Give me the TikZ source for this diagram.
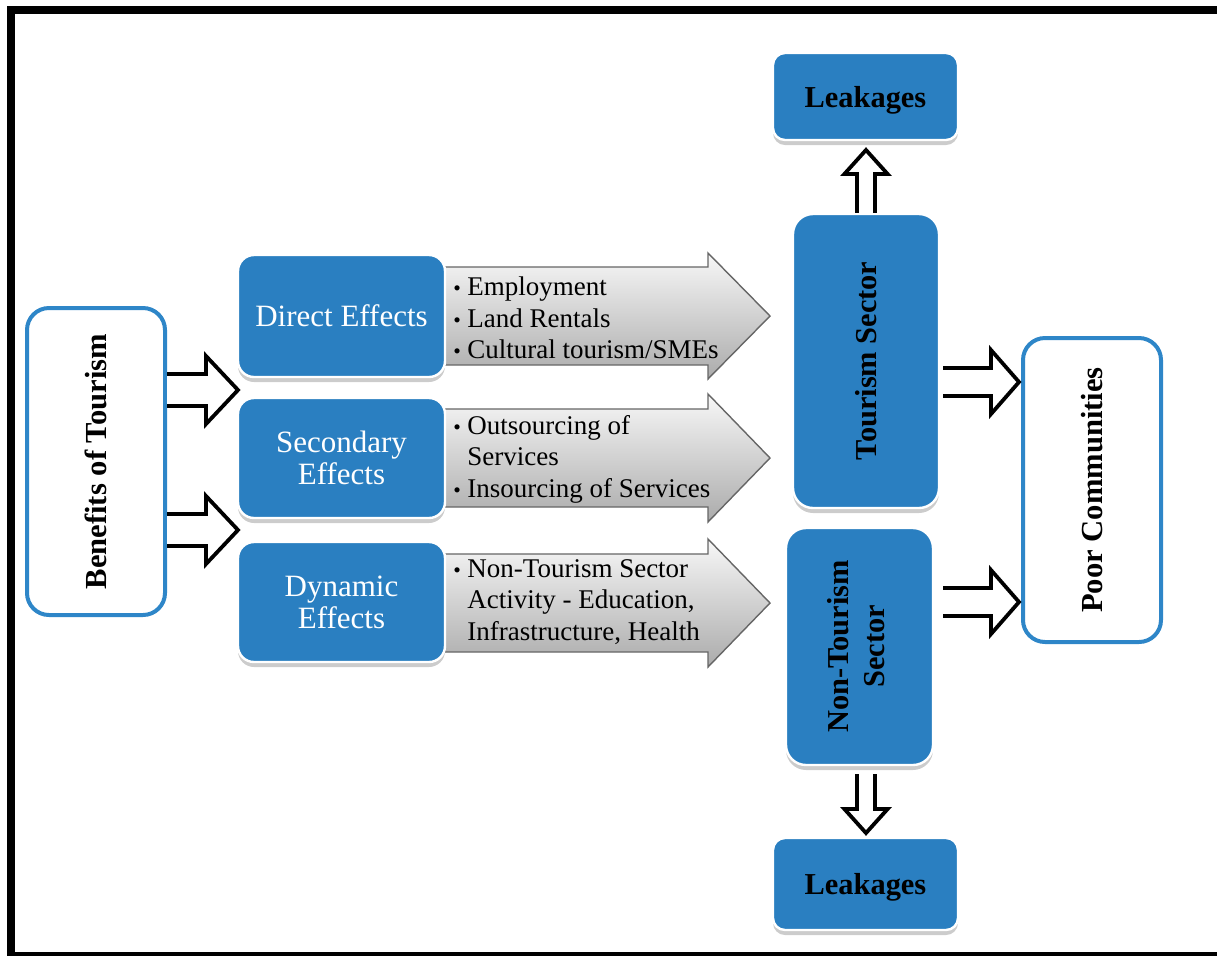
\documentclass[tikz,border=0pt]{standalone}
\usepackage{fontspec}
\setmainfont{Liberation Serif}
\usetikzlibrary{calc,shadows,backgrounds}

\definecolor{boxblue}{RGB}{42,127,193}
\definecolor{lineblue}{RGB}{46,134,200}

% bullet and hanging indent for the lists
\newcommand{\blt}{\makebox[7pt][l]{\scalebox{0.8}{\textbullet}}}
\newcommand{\nob}{\hspace*{7pt}}

% horizontal block arrow: [style] from, tip, body half, head half, head length
\newcommand{\hblock}[6][blockarrow]{%
  \draw[#1] let \p1=(#2), \p2=(#3) in
    (\x1,\y2+#4) -- (\x2-#6,\y2+#4) -- (\x2-#6,\y2+#5) -- (\x2,\y2)
    -- (\x2-#6,\y2-#5) -- (\x2-#6,\y2-#4) -- (\x1,\y2-#4);}
% vertical block arrow: from, tip, body half, head half, signed head length
\newcommand{\vblock}[5]{%
  \draw[blockarrow] let \p1=(#1), \p2=(#2) in
    (\x2-#3,\y1) -- (\x2-#3,\y2#5) -- (\x2-#4,\y2#5) -- (\x2,\y2)
    -- (\x2+#4,\y2#5) -- (\x2+#3,\y2#5) -- (\x2+#3,\y1);}

\begin{document}
\begin{tikzpicture}[x=0.5pt, y=-0.5pt,
  bluebox/.style={draw=white, line width=1.2pt, fill=boxblue, inner sep=0pt,
    drop shadow={shadow xshift=0pt, shadow yshift=-2.5pt, fill=black!22, opacity=0.9}},
  effect/.style={bluebox, rounded corners=8pt, minimum width=103.5pt, minimum height=61pt,
    text=white, align=center, font=\fontsize{15.5}{16}\selectfont},
  sector/.style={bluebox, rounded corners=10pt, font=\fontsize{15.2}{18}\selectfont\bfseries},
  leak/.style={bluebox, rounded corners=6pt, minimum width=92.5pt, text depth=0pt,
    font=\fontsize{15.2}{18}\selectfont\bfseries},
  outlinebox/.style={draw=lineblue, line width=2pt, fill=white, rounded corners=11pt,
    inner sep=0pt, font=\fontsize{15.3}{18}\selectfont\bfseries},
  items/.style={anchor=west, align=left, inner sep=0pt, font=\fontsize{13.5}{15.8}\selectfont},
  blockarrow/.style={draw=black, line width=1.9pt, fill=white, line join=miter},
  grayarrow/.style={draw=black!60, line width=0.7pt, top color=black!3, bottom color=black!33}]

\useasboundingbox (0,0) rectangle (1217,955);
\clip (0,0) rectangle (1217,955);

% boxes
\node[outlinebox, minimum width=69pt, minimum height=153.5pt] (ben) at (96,461.5)
  {\rotatebox{90}{Benefits of Tourism}};
\node[effect] (dir) at (341.5,316) {Direct Effects};
\node[effect, minimum height=60pt] (sec) at (341.5,458) {Secondary\\Effects};
\node[effect, minimum height=60pt] (dyn) at (341.5,602) {Dynamic\\Effects};
\node[sector, minimum width=73pt, minimum height=147pt] (tour) at (866,361)
  {\rotatebox{90}{Tourism Sector}};
\node[sector, minimum width=73.5pt, minimum height=118.5pt] (ntour) at (859.5,646.5)
  {\rotatebox{90}{\begin{tabular}{@{}c@{}}Non-Tourism\\Sector\end{tabular}}};
\node[leak, minimum height=43.5pt] (leak1) at (865.5,96.5) {Leakages};
\node[leak, minimum height=46pt] (leak2) at (865.5,884) {Leakages};
\node[outlinebox, minimum width=69pt, minimum height=152pt] (poor) at (1092,490)
  {\rotatebox{90}{Poor Communities}};

% lists
\node[items] (dirlist) at (453,318) {\blt Employment\\ \blt Land Rentals\\ \blt Cultural tourism/SMEs};
\node[items] (seclist) at (453,459) {\blt Outsourcing of\\ \nob Services\\ \blt Insourcing of Services};
\node[items] (dynlist) at (453,602) {\blt Non-Tourism Sector\\ \nob Activity - Education,\\ \nob Infrastructure, Health};

% arrow tips
\coordinate (gt1) at (770,316);
\coordinate (gt2) at (770,458);
\coordinate (gt3) at (770,603);
\coordinate (bt1) at (238,390);
\coordinate (bt2) at (238,530);
\coordinate (pt1) at (1019,382);
\coordinate (pt2) at (1019,602);
\coordinate (lt1) at (866,150);
\coordinate (lt2) at (866,833);

\begin{scope}[on background layer]
  \hblock[grayarrow]{[xshift=-5pt]dir.east}{gt1}{24.5}{31.5}{31}
  \hblock[grayarrow]{[xshift=-5pt]sec.east}{gt2}{24.5}{32}{31}
  \hblock[grayarrow]{[xshift=-5pt]dyn.east}{gt3}{24.5}{32}{31}
\end{scope}

\hblock{ben.east}{bt1}{8}{17}{16}
\hblock{ben.east}{bt2}{8}{17}{16}
\hblock{[xshift=1.5pt]tour.east}{pt1}{7}{16}{14}
\hblock{[xshift=4.5pt]ntour.east}{pt2}{7}{16}{14}
\vblock{tour.north}{lt1}{4.5}{10.8}{-12}
\vblock{[yshift=-4pt]ntour.south}{lt2}{4.5}{10.8}{+12}

% frame
\draw[line width=4pt] (11,10) rectangle (1222,956);
\end{tikzpicture}
\end{document}
